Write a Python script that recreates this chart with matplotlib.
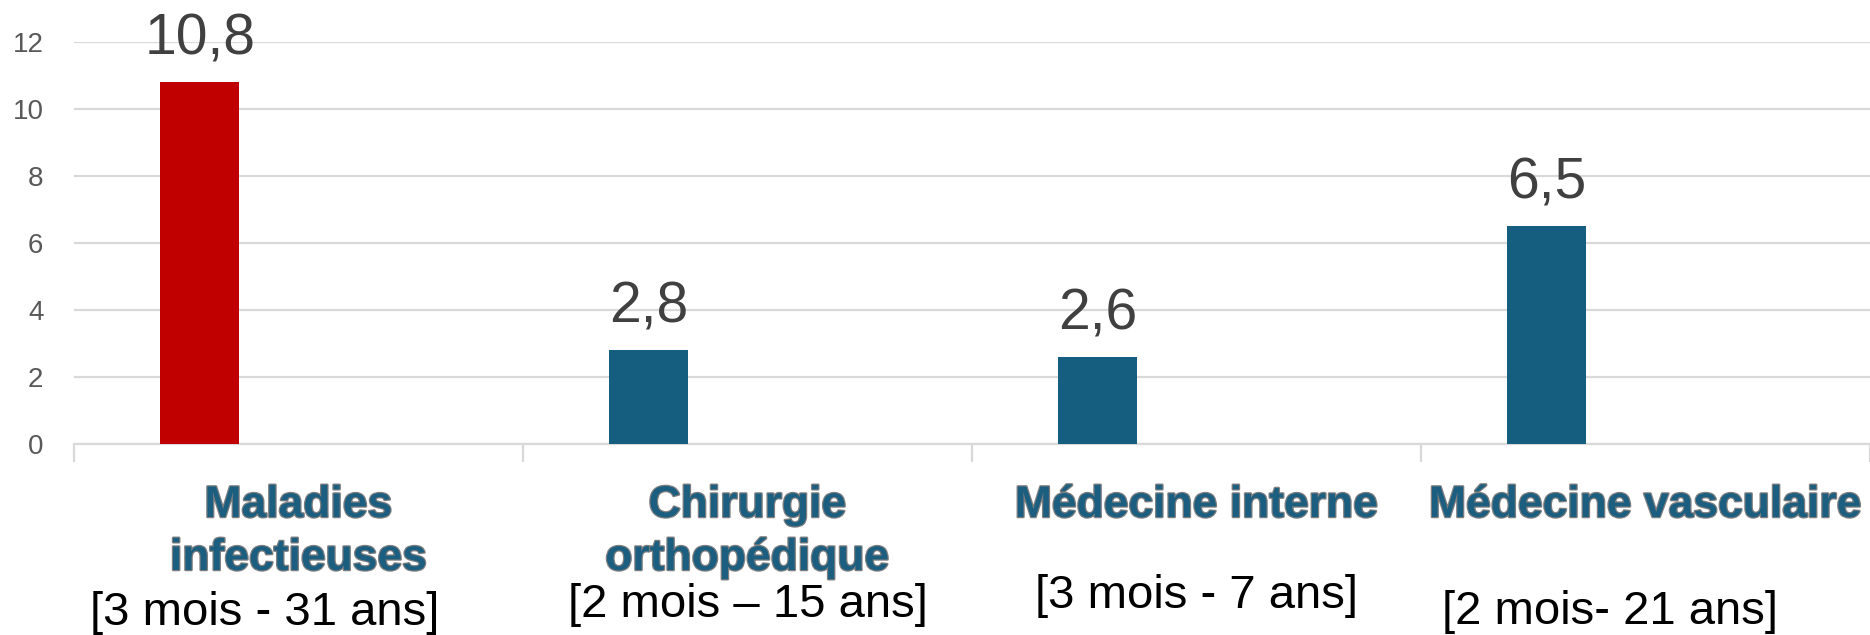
import matplotlib
matplotlib.use("Agg")
import matplotlib.pyplot as plt
import matplotlib.patheffects as pe
import numpy as np

# donnees
categories = ["Maladies\ninfectieuses", "Chirurgie\northopédique",
              "Médecine interne", "Médecine vasculaire"]
plages = ["[3 mois - 31 ans]", "[2 mois – 15 ans]",
          "[3 mois - 7 ans]", "[2 mois- 21 ans]"]
valeurs = [10.8, 2.8, 2.6, 6.5]
couleurs = ["#C00000", "#165E80", "#165E80", "#165E80"]
yticks = [0, 2, 4, 6, 8, 10, 12]

plt.rcParams['font.family'] = ['Liberation Sans', 'DejaVu Sans']

fig = plt.figure(figsize=(18.7, 6.35), dpi=100)
ax = fig.add_axes([0.0396, 0.3008, 0.9604, 0.6331])

x = np.arange(len(valeurs))
decal = -0.22  # barre decalee a gauche dans chaque categorie
barres = ax.bar(x + decal, valeurs, width=0.176, color=couleurs, zorder=3)

etiq = [f"{v:.1f}".replace(".", ",") for v in valeurs]
ax.bar_label(barres, labels=etiq, padding=11, fontsize=41, color="#404040")

ax.set_xlim(-0.5, 3.5)
ax.set_ylim(0, 12)
ax.set_yticks(yticks)
ax.tick_params(axis="y", length=0, pad=22, labelsize=20, labelcolor="#595959")
ax.grid(axis="y", color="#D9D9D9", linewidth=1.6, zorder=0)
for s in ["top", "right", "left"]:
    ax.spines[s].set_visible(False)
ax.spines["bottom"].set_color("#D9D9D9")
ax.spines["bottom"].set_linewidth(1.6)

# separateurs de categories
ax.set_xticks(np.arange(-0.5, 3.6, 1.0))
ax.set_xticklabels([])
ax.tick_params(axis="x", length=13, width=1.6, color="#D9D9D9")

trans = ax.get_xaxis_transform()
h_ax = 402.0  # hauteur de l'axe en pixels
contour = [pe.Stroke(linewidth=1.8, foreground="#7F7F7F"), pe.Normal()]
for i, nom in enumerate(categories):
    for k, ligne in enumerate(nom.split("\n")):
        ax.text(i, -(73 + 53 * k) / h_ax, ligne, transform=trans,
                ha="center", va="baseline", fontsize=32, fontweight="bold",
                color="#1B5E80", path_effects=contour)

plage_dx = [-0.076, 0.0, 0.0, -0.078]
plage_y = [625, 617, 608, 624]
for i, p in enumerate(plages):
    ax.text(i + plage_dx[i], -(plage_y[i] - 444) / h_ax, p, transform=trans,
            ha="center", va="baseline", fontsize=34, color="black")

fig.savefig("out.png", dpi=100)
